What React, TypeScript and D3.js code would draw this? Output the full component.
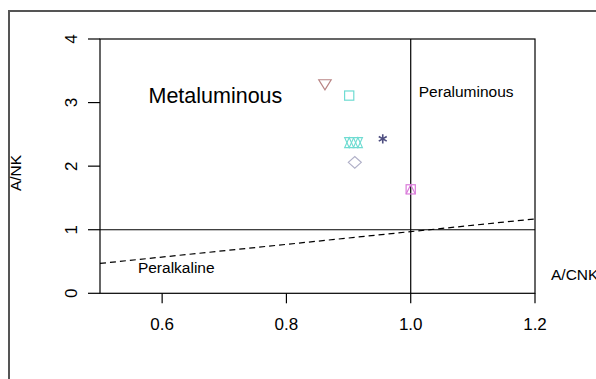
import React from "react";
import * as d3 from "d3";

const W = 596;
const H = 379;

// Data
const sampleACNK = [0.862, 0.901, 0.901, 0.915, 0.955, 0.910, 1.0];
const sampleANK = [3.28, 3.11, 2.37, 2.37, 2.43, 2.06, 1.635];
const sampleSymbols = ["triDown", "square", "star", "star", "asterisk", "diamond", "squareTri"];
const sampleColors = ["#b98585", "#6fdcd2", "#6fdcd2", "#6fdcd2", "#4e4e80", "#b0b0c8", "#d97ad9"];

const xTicks = [0.6, 0.8, 1.0, 1.2];
const yTicks = [0, 1, 2, 3, 4];
const xDomain = [0.5, 1.2];
const yDomain = [0, 4];
const dashedX = [0.5, 1.2];
const dashedY = [0.47, 1.17];

const fieldLabels = [
  { text: "Metaluminous", x: 0.578, y: 3.0, size: 21.5 },
  { text: "Peraluminous", x: 1.013, y: 3.09, size: 15.5 },
  { text: "Peralkaline", x: 0.561, y: 0.32, size: 15.5 },
];

const font = "'Liberation Sans', Arial, Helvetica, sans-serif";

function Marker({ type, x, y, color }: { type: string; x: number; y: number; color: string }) {
  const sw = 1.2;
  const common = { fill: "none", stroke: color, strokeWidth: sw };
  if (type === "triDown") {
    const w = 6.2, h = 5;
    return <path d={`M${x - w},${y - h}L${x + w},${y - h}L${x},${y + h}Z`} {...common} />;
  }
  if (type === "square") {
    const s = 4.6;
    return <rect x={x - s} y={y - s} width={2 * s} height={2 * s} {...common} />;
  }
  if (type === "star") {
    const w = 4.5, h = 5;
    return (
      <g {...common}>
        <path d={`M${x - w},${y + h}L${x + w},${y + h}L${x},${y - h}Z`} />
        <path d={`M${x - w},${y - h}L${x + w},${y - h}L${x},${y + h}Z`} />
      </g>
    );
  }
  if (type === "asterisk") {
    const r = 4.6;
    const dx = r * Math.cos(Math.PI / 6), dy = r * Math.sin(Math.PI / 6);
    return (
      <path
        d={`M${x},${y - r}L${x},${y + r}M${x - dx},${y - dy}L${x + dx},${y + dy}M${x - dx},${y + dy}L${x + dx},${y - dy}`}
        fill="none"
        stroke={color}
        strokeWidth={1.6}
      />
    );
  }
  if (type === "diamond") {
    const w = 6.5, h = 5.8;
    return <path d={`M${x - w},${y}L${x},${y - h}L${x + w},${y}L${x},${y + h}Z`} {...common} />;
  }
  if (type === "squareTri") {
    const s = 4.6;
    return (
      <g {...common}>
        <rect x={x - s} y={y - s} width={2 * s} height={2 * s} />
        <path d={`M${x - s},${y + s}L${x},${y - s}L${x + s},${y + s}`} />
      </g>
    );
  }
  return null;
}

export default function App() {
  const left = 100, right = 535, top = 39, bottom = 293.3;
  const x = d3.scaleLinear().domain(xDomain).range([left, right]);
  const y = d3.scaleLinear().domain(yDomain).range([bottom, top]);
  const dashLine = d3
    .line<number>()
    .x((_, i) => x(dashedX[i]))
    .y((d) => y(d));

  return (
    <svg
      width={W}
      height={H}
      style={{ position: "fixed", left: 0, top: 0, background: "#fff" }}
      fontFamily={font}
    >
      <rect x={0} y={0} width={W} height={H} fill="#fff" />
      {/* outer frame */}
      <rect x={9} y={11} width={700} height={500} fill="none" stroke="#555" strokeWidth={2} />

      {/* plot box */}
      <rect x={left} y={top} width={right - left} height={bottom - top} fill="none" stroke="#000" strokeWidth={1.2} />

      {/* reference lines */}
      <line x1={left} x2={right} y1={y(1)} y2={y(1)} stroke="#000" strokeWidth={1.2} />
      <line x1={x(1)} x2={x(1)} y1={top} y2={bottom} stroke="#000" strokeWidth={1.2} />
      <path d={dashLine(dashedY) || ""} fill="none" stroke="#000" strokeWidth={1.2} strokeDasharray="6,4" />

      {/* y axis */}
      {yTicks.map((t) => (
        <g key={"y" + t}>
          <line x1={88} x2={left} y1={y(t)} y2={y(t)} stroke="#000" strokeWidth={1.2} />
          <text
            transform={`translate(77,${y(t)}) rotate(-90)`}
            textAnchor="middle"
            fontSize={17}
            fill="#000"
          >
            {t}
          </text>
        </g>
      ))}

      {/* x axis */}
      {xTicks.map((t) => (
        <g key={"x" + t}>
          <line x1={x(t)} x2={x(t)} y1={bottom} y2={bottom + 10} stroke="#000" strokeWidth={1.2} />
          <text x={x(t)} y={330} textAnchor="middle" fontSize={17} fill="#000">
            {t.toFixed(1)}
          </text>
        </g>
      ))}

      {/* axis titles */}
      <text transform="translate(21,173) rotate(-90)" textAnchor="middle" fontSize={15.5} fill="#000">
        A/NK
      </text>
      <text x={551} y={280} fontSize={15.5} fill="#000">
        A/CNK
      </text>

      {/* field labels */}
      {fieldLabels.map((l) => (
        <text key={l.text} x={x(l.x)} y={y(l.y)} fontSize={l.size} fill="#000">
          {l.text}
        </text>
      ))}

      {/* samples */}
      {sampleACNK.map((v, i) => (
        <Marker key={i} type={sampleSymbols[i]} x={x(v)} y={y(sampleANK[i])} color={sampleColors[i]} />
      ))}
    </svg>
  );
}
